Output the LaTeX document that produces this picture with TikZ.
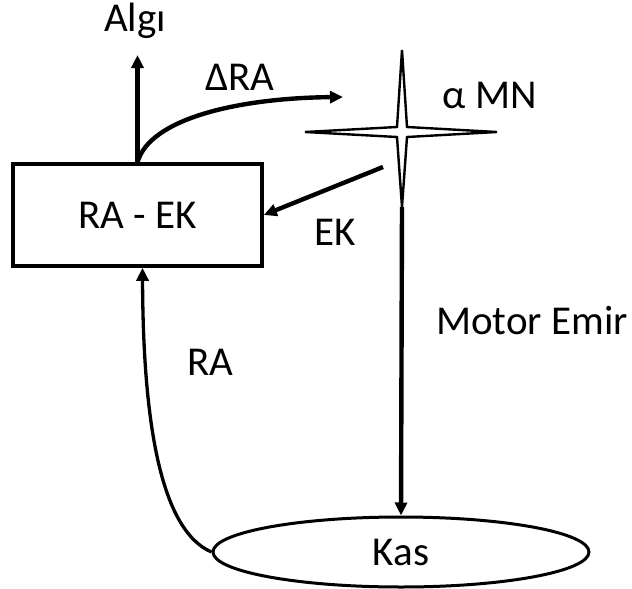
\documentclass[tikz,border=0pt]{standalone}
\usepackage{fontspec}
\setmainfont{Carlito}
\usetikzlibrary{
  arrows.meta,
  shapes.geometric,
  positioning,
  calc
}
\tikzset{
  fbnode/.style={
    draw, thick, align=center, font=\fontsize{41}{48}\selectfont
  },
  fbbox/.style={fbnode, line width=3.6pt, minimum width=249pt, minimum height=102pt},
  fbmuscle/.style={fbnode, ellipse, line width=3pt, minimum width=376pt, minimum height=70pt},
  fblabel/.style={font=\fontsize{41}{48}\selectfont, inner sep=0pt},
  fbarrow/.style={-{Triangle[length=13pt, width=12pt]}, line width=4.4pt},
  fbthin/.style={-{Triangle[length=13pt, width=12pt]}, line width=3.3pt},
  fbstar/.style={draw, line width=2.4pt, fill=white, line join=miter}
}
\begin{document}
\begin{tikzpicture}[x=1pt, y=-1pt]
  \useasboundingbox (0,0) rectangle (632,589);
  % blocks
  \node[fbbox] (raek) at (137.5,215) {RA - EK};
  \node[fbmuscle] (kas) at (401,552) {Kas};
  % alpha motor neuron
  \coordinate (mn) at (402,132);
  \coordinate (mntop) at (402,50);
  \coordinate (mnbot) at (402,207);
  \coordinate (mnleft) at (305,132);
  \coordinate (mnright) at (497,132);
  \draw[fbstar] (mntop) -- (407,127) -- (mnright) -- (407,137)
    -- (mnbot) -- (397,137) -- (mnleft) -- (397,127) -- cycle;
  % free ends
  \coordinate (algitip) at (137.5,55);
  \coordinate (dratip) at (343,97);
  \coordinate (ekstart) at (383,167);
  % labels
  \node[fblabel] (algi) at (135,21) {Algı};
  \node[fblabel] (dra) at (240,77) {ΔRA};
  \node[fblabel] (amn) at (490,95) {α MN};
  \node[fblabel] (ek) at (335,232) {EK};
  \node[fblabel] (motor) at (532,321) {Motor Emir};
  \node[fblabel] (ra) at (210,362) {RA};
  % connectors
  \draw[fbarrow] (raek.north) -- (algitip);
  \draw[fbarrow] (raek.north) .. controls (150,118) and (240,98) .. (dratip);
  \draw[fbarrow] (ekstart) -- (raek.east);
  \draw[fbarrow] (mnbot) -- (kas.north);
  \draw[fbthin] (kas.west) .. controls (160,530) and (143,420) .. ([xshift=5pt]raek.south);
\end{tikzpicture}
\end{document}
